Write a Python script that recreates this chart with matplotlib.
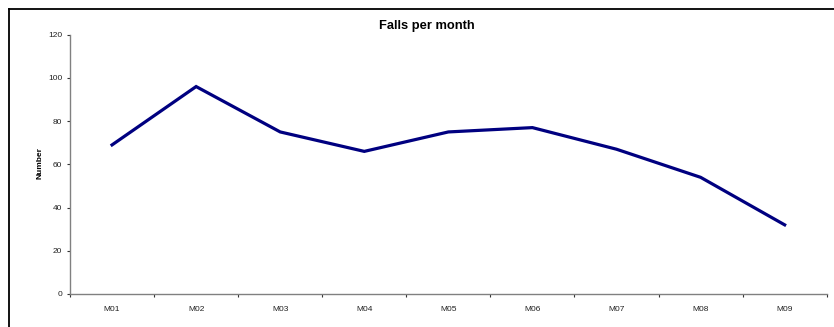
import matplotlib
matplotlib.use("Agg")
import matplotlib.pyplot as plt
from matplotlib.lines import Line2D
import numpy as np

plt.rcParams['font.family'] = ['Liberation Sans', 'DejaVu Sans']

months = ["M01", "M02", "M03", "M04", "M05", "M06", "M07", "M08", "M09"]
falls = [69, 96, 75, 66, 75, 77, 67, 54, 32]
y_ticks = [0, 20, 40, 60, 80, 100, 120]

W, H = 834, 327
fig = plt.figure(figsize=(W / 100, H / 100), dpi=100)
ax = fig.add_axes([70 / W, 1 - 294 / H, (826.7 - 70) / W, (294 - 34.7) / H])

x = np.arange(len(months))
ax.plot(x, falls, color='#000080', linewidth=2.3, solid_joinstyle='miter')

ax.set_xlim(-0.5, len(months) - 0.5)
ax.set_ylim(0, 120)
ax.set_yticks(y_ticks)
ax.set_xticks(x)
ax.set_xticklabels(months)
ax.set_xticks(np.arange(len(months) + 1) - 0.5, minor=True)

axis_grey = '#808080'
for s in ['top', 'right']:
    ax.spines[s].set_visible(False)
for s in ['left', 'bottom']:
    ax.spines[s].set_color(axis_grey)
    ax.spines[s].set_linewidth(1.0)

ax.tick_params(axis='x', which='major', length=0, pad=8.5, labelsize=6, labelcolor='#222222')
ax.tick_params(axis='x', which='minor', length=2.5, width=0.8, color='#333333', direction='out')
ax.tick_params(axis='y', length=2.5, width=0.8, color='#333333', pad=3, labelsize=6, labelcolor='#222222')

fig.text(40 / W, 1 - 163 / H, 'Number', rotation=90, ha='center', va='center',
         fontsize=6, fontweight='bold')
fig.text(427 / W, 1 - 26.5 / H, 'Falls per month', ha='center', va='center',
         fontsize=9.3, fontweight='bold')

# frame around the chart area (left and top edges)
fig.add_artist(Line2D([8.5 / W, 8.5 / W], [0, 1 - 8.5 / H], transform=fig.transFigure,
                      color='black', linewidth=1.3))
fig.add_artist(Line2D([8.5 / W, 1], [1 - 8.5 / H, 1 - 8.5 / H], transform=fig.transFigure,
                      color='black', linewidth=1.3))

fig.savefig("out.png", dpi=100)
